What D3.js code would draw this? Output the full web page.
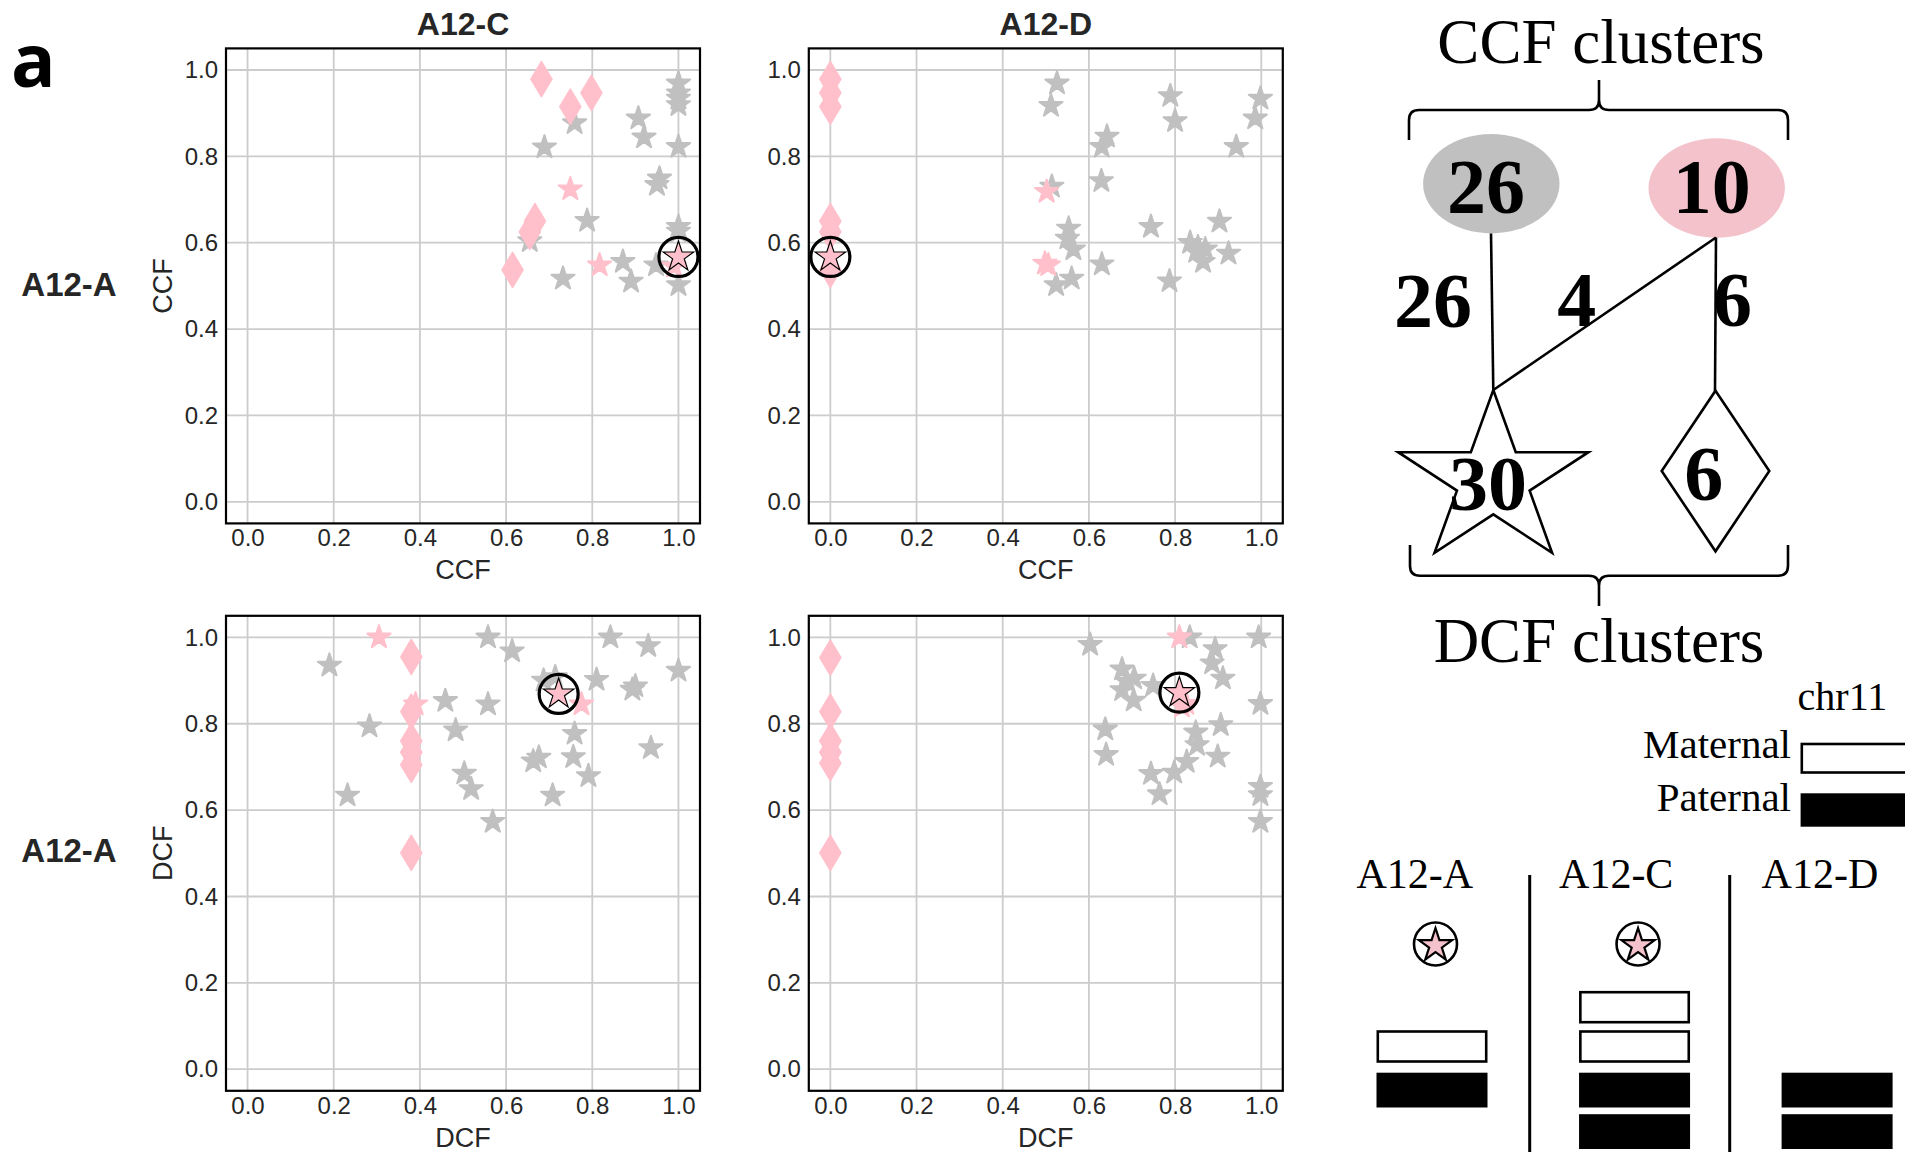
<!DOCTYPE html>
<html><head><meta charset="utf-8">
<script src="https://cdn.jsdelivr.net/npm/d3@7"></script>
<style>body{margin:0;background:#fff;} svg{display:block}</style>
</head><body>
<svg id="c" width="1905" height="1152"></svg>
<script>
// ---------- DATA ----------
const tickValues = [0, 0.2, 0.4, 0.6, 0.8, 1.0];
const colTitles = ["A12-C", "A12-D"];
const rowLabels = ["A12-A", "A12-A"];
const rowAxisLabels = ["CCF", "DCF"];

// Panel: A12-A CCF (y) vs A12-C CCF (x)
const ccfAC_gray = [[1.0,0.969],[1.0,0.946],[1.0,0.934],[1.0,0.919],[0.759,0.877],[0.689,0.821],[0.907,0.888],[0.920,0.844],[1.0,0.822],[0.956,0.749],[0.950,0.734],[0.788,0.651],[1.0,0.637],[1.0,0.626],[0.655,0.604],[0.732,0.517],[0.871,0.556],[0.890,0.510],[0.948,0.548],[1.0,0.502]];
const ccfAC_pinkStars = [[0.749,0.724],[0.817,0.548],[0.99,0.545]];
const ccfAC_diamonds = [[0.682,0.979],[0.798,0.947],[0.749,0.915],[0.667,0.650],[0.655,0.625],[0.615,0.537]];
const ccfAC_mark = [1.0,0.567];

// Panel: A12-A CCF (y) vs A12-D CCF (x)
const ccfAD_gray = [[0.526,0.969],[0.512,0.917],[0.789,0.940],[0.800,0.882],[0.998,0.934],[0.986,0.888],[0.942,0.822],[0.642,0.846],[0.630,0.822],[0.629,0.743],[0.514,0.730],[0.744,0.637],[0.903,0.649],[0.553,0.633],[0.550,0.610],[0.564,0.585],[0.630,0.550],[0.524,0.502],[0.560,0.517],[0.787,0.511],[0.835,0.600],[0.849,0.579],[0.870,0.585],[0.865,0.556],[0.924,0.575],[0.853,0.590]];
const ccfAD_pinkStars = [[0.502,0.718],[0.506,0.548],[0.498,0.552]];
const ccfAD_diamonds = [[0,0.979],[0,0.947],[0,0.915],[0,0.650],[0,0.625],[0,0.537]];
const ccfAD_mark = [0,0.567];

// Panel: A12-A DCF (y) vs A12-C DCF (x)
const dcfAC_gray = [[0.19,0.935],[0.283,0.794],[0.232,0.634],[0.459,0.853],[0.483,0.785],[0.558,1.0],[0.558,0.845],[0.614,0.968],[0.503,0.685],[0.519,0.649],[0.569,0.573],[0.663,0.713],[0.676,0.722],[0.708,0.634],[0.759,0.777],[0.756,0.723],[0.791,0.679],[0.81,0.902],[0.842,1.0],[0.893,0.879],[0.9,0.887],[0.93,0.98],[0.936,0.744],[1.0,0.923],[0.687,0.90],[0.714,0.908]];
const dcfAC_pinkStars = [[0.305,1.0],[0.39,0.845],[0.775,0.845]];
const dcfAC_diamonds = [[0.38,0.955],[0.38,0.828],[0.38,0.760],[0.38,0.734],[0.38,0.705],[0.38,0.501]];
const dcfAC_mark = [0.722,0.869];

// Panel: A12-A DCF (y) vs A12-D DCF (x)
const dcfAD_gray = [[0.603,0.983],[0.834,1.0],[0.994,1.0],[0.893,0.973],[0.886,0.940],[0.911,0.905],[0.677,0.926],[0.705,0.905],[0.688,0.898],[0.677,0.878],[0.704,0.854],[0.749,0.888],[0.998,0.846],[0.638,0.787],[0.640,0.728],[0.848,0.780],[0.906,0.797],[0.851,0.751],[0.827,0.712],[0.899,0.724],[0.798,0.687],[0.744,0.684],[0.764,0.637],[0.998,0.654],[0.998,0.635],[0.998,0.573]];
const dcfAD_pinkStars = [[0.81,1.0],[0.816,0.840],[0.826,0.846]];
const dcfAD_diamonds = [[0,0.953],[0,0.828],[0,0.760],[0,0.734],[0,0.709],[0,0.501]];
const dcfAD_mark = [0.81,0.872];

// Cluster diagram
const ccfClusterCounts = ["26", "10"];
const edgeCounts = ["26", "4", "6"];
const dcfClusterCounts = ["30", "6"];

// chr11 copy numbers
const samples = ["A12-A", "A12-C", "A12-D"];
const maternalCopies = [1, 2, 0];
const paternalCopies = [1, 2, 2];
const hasMarker = [true, true, false];

// ---------- STYLE ----------
const GRAY = "#c0c0c0", PINK = "#ffc0cb", PINK2 = "#f4c2cb";
const svg = d3.select("#c");
const W = 474, H = 475;

function starPath(cx, cy, Rx, Ry) {
  const pts = [];
  for (let i = 0; i < 10; i++) {
    const a = -Math.PI/2 + i*Math.PI/5;
    const k = (i % 2 === 0) ? 1 : 0.381966;
    pts.push([cx + Math.cos(a)*Rx*k, cy + Math.sin(a)*(Ry===undefined?Rx:Ry)*k]);
  }
  return "M" + pts.map(p => p[0].toFixed(2)+","+p[1].toFixed(2)).join("L") + "Z";
}
function diamondPath(cx, cy, hw, hh) {
  return `M${cx},${cy-hh}L${cx+hw},${cy}L${cx},${cy+hh}L${cx-hw},${cy}Z`;
}

const panels = [
  {x0:226,   y0:48.4,  gray:ccfAC_gray, pink:ccfAC_pinkStars, dia:ccfAC_diamonds, mark:ccfAC_mark, lab:rowAxisLabels[0], yl:true,  title:colTitles[0]},
  {x0:808.8, y0:48.4,  gray:ccfAD_gray, pink:ccfAD_pinkStars, dia:ccfAD_diamonds, mark:ccfAD_mark, lab:rowAxisLabels[0], yl:false, title:colTitles[1]},
  {x0:226,   y0:615.8, gray:dcfAC_gray, pink:dcfAC_pinkStars, dia:dcfAC_diamonds, mark:dcfAC_mark, lab:rowAxisLabels[1], yl:true},
  {x0:808.8, y0:615.8, gray:dcfAD_gray, pink:dcfAD_pinkStars, dia:dcfAD_diamonds, mark:dcfAD_mark, lab:rowAxisLabels[1], yl:false}
];

panels.forEach((p, idx) => {
  const x = d3.scaleLinear().domain([-0.05, 1.05]).range([p.x0, p.x0 + W]);
  const y = d3.scaleLinear().domain([-0.05, 1.05]).range([p.y0 + H, p.y0]);
  const g = svg.append("g");
  const clipId = "clip" + idx;
  svg.append("clipPath").attr("id", clipId).append("rect")
    .attr("x", p.x0).attr("y", p.y0).attr("width", W).attr("height", H);
  // grid
  g.append("g").selectAll("line.v").data(tickValues).join("line")
    .attr("x1", d => x(d)).attr("x2", d => x(d)).attr("y1", p.y0).attr("y2", p.y0 + H)
    .attr("stroke", "#cccccc").attr("stroke-width", 1.8);
  g.append("g").selectAll("line.h").data(tickValues).join("line")
    .attr("y1", d => y(d)).attr("y2", d => y(d)).attr("x1", p.x0).attr("x2", p.x0 + W)
    .attr("stroke", "#cccccc").attr("stroke-width", 1.8);
  // axes labels
  const xa = g.append("g").attr("transform", `translate(0,${p.y0 + H})`)
    .call(d3.axisBottom(x).tickValues(tickValues).tickFormat(d3.format(".1f")).tickSize(0).tickPadding(6));
  const ya = g.append("g").attr("transform", `translate(${p.x0},0)`)
    .call(d3.axisLeft(y).tickValues(tickValues).tickFormat(d3.format(".1f")).tickSize(0).tickPadding(8));
  [xa, ya].forEach(a => {
    a.select(".domain").remove();
    a.selectAll("text").attr("font-family", "Liberation Sans, Arial, sans-serif")
      .attr("font-size", 24).attr("fill", "#262626");
  });
  const m = g.append("g").attr("clip-path", `url(#${clipId})`);
  m.selectAll("path.g").data(p.gray).join("path")
    .attr("d", d => starPath(x(d[0]), y(d[1]), 12.2)).attr("fill", GRAY)
    .attr("stroke", GRAY).attr("stroke-width", 2).attr("stroke-linejoin", "round");
  m.selectAll("path.p").data(p.pink).join("path")
    .attr("d", d => starPath(x(d[0]), y(d[1]), 12.2)).attr("fill", PINK)
    .attr("stroke", PINK).attr("stroke-width", 2).attr("stroke-linejoin", "round");
  m.selectAll("path.d").data(p.dia).join("path")
    .attr("d", d => diamondPath(x(d[0]), y(d[1]), 10.5, 17.5)).attr("fill", PINK)
    .attr("stroke", PINK).attr("stroke-width", 1.6).attr("stroke-linejoin", "round");
  // highlighted mutation
  g.append("path").attr("d", starPath(x(p.mark[0]), y(p.mark[1]), 16))
    .attr("fill", PINK).attr("stroke", "#000").attr("stroke-width", 1.2);
  g.append("circle").attr("cx", x(p.mark[0])).attr("cy", y(p.mark[1])).attr("r", 19.5)
    .attr("fill", "none").attr("stroke", "#000").attr("stroke-width", 3.2);
  // frame
  g.append("rect").attr("x", p.x0).attr("y", p.y0).attr("width", W).attr("height", H)
    .attr("fill", "none").attr("stroke", "#000").attr("stroke-width", 2.2);
  // x label
  g.append("text").attr("x", p.x0 + W/2).attr("y", p.y0 + H + 56)
    .attr("text-anchor", "middle").attr("font-family", "Liberation Sans, Arial, sans-serif")
    .attr("font-size", 27).attr("fill", "#262626").text(p.lab);
  if (p.yl) {
    g.append("text").attr("transform", `translate(172,${p.y0 + H/2}) rotate(-90)`)
      .attr("text-anchor", "middle").attr("font-family", "Liberation Sans, Arial, sans-serif")
      .attr("font-size", 27).attr("fill", "#262626").text(p.lab);
  }
  if (p.title) {
    g.append("text").attr("x", p.x0 + W/2).attr("y", 35)
      .attr("text-anchor", "middle").attr("font-family", "Liberation Sans, Arial, sans-serif")
      .attr("font-weight", "bold").attr("font-size", 32).attr("fill", "#262626").text(p.title);
  }
});

// row labels
rowLabels.forEach((r, i) => {
  svg.append("text").attr("x", 69).attr("y", 296 + i*566)
    .attr("text-anchor", "middle").attr("font-family", "Liberation Sans, Arial, sans-serif")
    .attr("font-weight", "bold").attr("font-size", 33).attr("fill", "#262626").text(r);
});
// panel letter
svg.append("text").attr("x", 11).attr("y", 87).attr("font-family", "Open Sans, sans-serif")
  .attr("font-weight", "bold").attr("font-size", 74).attr("fill", "#000").text("a");

// ---------- CLUSTER DIAGRAM ----------
const serif = "Liberation Serif, Times New Roman, serif";
const dg = svg.append("g");
function brace(x1, x2, tipX, yh, yEnd, tipY) {
  const s = Math.sign(yEnd - yh), t = Math.sign(tipY - yh), r = 10;
  return `M${x1},${yEnd} L${x1},${yh + s*r} Q${x1},${yh} ${x1 + r},${yh} L${tipX - r},${yh} Q${tipX},${yh} ${tipX},${yh + t*r} L${tipX},${tipY}` +
         ` M${tipX},${yh + t*r} Q${tipX},${yh} ${tipX + r},${yh} L${x2 - r},${yh} Q${x2},${yh} ${x2},${yh + s*r} L${x2},${yEnd}`;
}
dg.append("text").attr("x", 1601).attr("y", 63).attr("text-anchor", "middle")
  .attr("font-family", serif).attr("font-size", 63).text("CCF clusters");
dg.append("path").attr("d", brace(1409, 1788, 1599, 110, 140, 80))
  .attr("fill", "none").attr("stroke", "#000").attr("stroke-width", 2.6);
dg.append("path").attr("d", brace(1410, 1788, 1599, 575.7, 545, 606))
  .attr("fill", "none").attr("stroke", "#000").attr("stroke-width", 2.6);
dg.append("text").attr("x", 1599).attr("y", 662).attr("text-anchor", "middle")
  .attr("font-family", serif).attr("font-size", 63).text("DCF clusters");

const ellipses = [{cx:1491.3, cy:183.7, fill:GRAY}, {cx:1716.7, cy:188, fill:PINK2}];
ellipses.forEach(e => {
  dg.append("ellipse").attr("cx", e.cx).attr("cy", e.cy).attr("rx", 68.2).attr("ry", 49.7).attr("fill", e.fill);
});
const lines = [[1491, 233.5, 1493.3, 390], [1716, 237.5, 1493.3, 390], [1716, 237.5, 1715, 391]];
lines.forEach(l => dg.append("line").attr("x1", l[0]).attr("y1", l[1]).attr("x2", l[2]).attr("y2", l[3])
  .attr("stroke", "#000").attr("stroke-width", 2.6));
dg.append("path").attr("d", starPath(1493.3, 480, 100, 90)).attr("fill", "#fff")
  .attr("stroke", "#000").attr("stroke-width", 2.6).attr("stroke-linejoin", "miter");
dg.append("path").attr("d", diamondPath(1715.5, 471, 53.8, 80.3)).attr("fill", "#fff")
  .attr("stroke", "#000").attr("stroke-width", 2.6);
const bigNums = [
  {t:ccfClusterCounts[0], x:1486, y:212.7}, {t:ccfClusterCounts[1], x:1711.7, y:213.3},
  {t:edgeCounts[0], x:1433, y:326.7}, {t:edgeCounts[1], x:1576.7, y:326}, {t:edgeCounts[2], x:1732.5, y:326},
  {t:dcfClusterCounts[0], x:1488, y:510}, {t:dcfClusterCounts[1], x:1703.7, y:500}
];
bigNums.forEach(n => dg.append("text").attr("x", n.x).attr("y", n.y).attr("text-anchor", "middle")
  .attr("font-family", serif).attr("font-weight", "bold").attr("font-size", 78).text(n.t));

// ---------- chr11 PANEL ----------
const cg = svg.append("g");
cg.append("text").attr("x", 1797.6).attr("y", 710).attr("font-family", serif).attr("font-size", 40).text("chr11");
cg.append("text").attr("x", 1791).attr("y", 758.3).attr("text-anchor", "end").attr("font-family", serif).attr("font-size", 41).text("Maternal");
cg.append("text").attr("x", 1791).attr("y", 810.7).attr("text-anchor", "end").attr("font-family", serif).attr("font-size", 41).text("Paternal");
cg.append("rect").attr("x", 1801.8).attr("y", 744).attr("width", 140).attr("height", 28.5)
  .attr("fill", "#fff").attr("stroke", "#000").attr("stroke-width", 2.6);
cg.append("rect").attr("x", 1800.6).attr("y", 793.3).attr("width", 140).attr("height", 33.4).attr("fill", "#000");

const colX = d3.scalePoint().domain(samples).range([1376.5, 1781.6]);
const rectW = 111;
[1529.7, 1729.7].forEach(xv => cg.append("line").attr("x1", xv).attr("x2", xv).attr("y1", 875).attr("y2", 1152)
  .attr("stroke", "#000").attr("stroke-width", 3));
samples.forEach((s, i) => {
  const x0 = colX(s);
  cg.append("text").attr("x", x0 - 20).attr("y", 888.3).attr("font-family", serif).attr("font-size", 42).text(s);
  if (hasMarker[i]) {
    const cx = x0 + 59, cy = 944;
    cg.append("circle").attr("cx", cx).attr("cy", cy).attr("r", 21.5).attr("fill", "#fff")
      .attr("stroke", "#000").attr("stroke-width", 2.6);
    cg.append("path").attr("d", starPath(cx, cy + 1.5, 17.5)).attr("fill", PINK2)
      .attr("stroke", "#000").attr("stroke-width", 2.2).attr("stroke-linejoin", "miter");
  }
  d3.range(maternalCopies[i]).forEach(k => {
    cg.append("rect").attr("x", x0 + 1.3).attr("y", 1031.5 - k*39.3).attr("width", rectW - 2.6).attr("height", 30)
      .attr("fill", "#fff").attr("stroke", "#000").attr("stroke-width", 2.6);
  });
  d3.range(paternalCopies[i]).forEach(k => {
    cg.append("rect").attr("x", x0).attr("y", 1072.7 + k*41.5).attr("width", rectW).attr("height", 34.8)
      .attr("fill", "#000");
  });
});
</script>
</body></html>
